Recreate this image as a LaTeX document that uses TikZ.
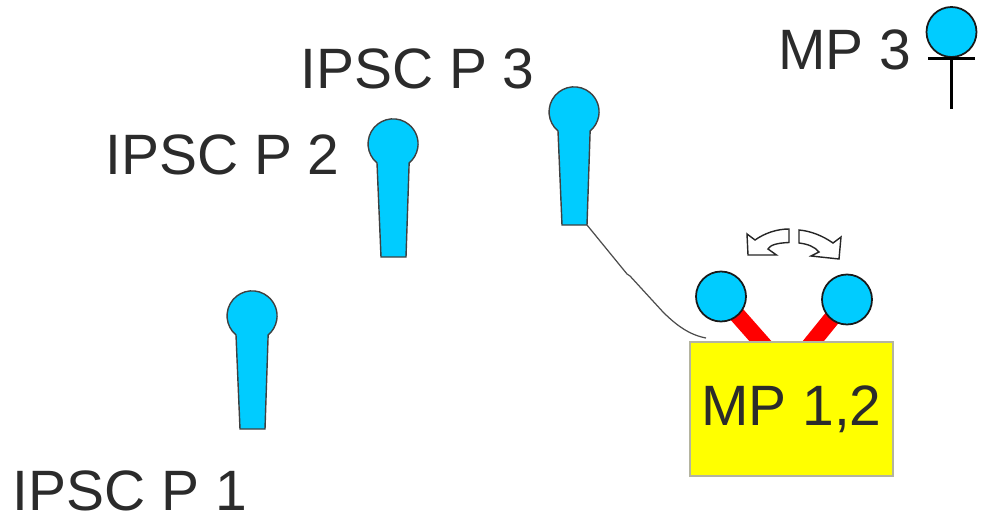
\documentclass[tikz,border=0pt]{standalone}
\usepackage{fontspec}
\setmainfont{Liberation Sans}
\usepackage{tikz}
\usetikzlibrary{backgrounds}

\definecolor{headblue}{HTML}{00CCFF}
\definecolor{labelgray}{HTML}{2B2B2B}
\definecolor{boxyellow}{HTML}{FFFF00}
\definecolor{boxedge}{HTML}{B4B4A0}
\definecolor{linkred}{HTML}{FF0000}
\tikzset{
	label text/.style={text=labelgray, font=\fontsize{32.4}{36}\selectfont, inner sep=0pt},
	head/.style={circle, draw=black!90, fill=headblue, line width=1pt, minimum size=1cm, inner sep=0pt, outer sep=0pt},
	mic/.style={draw=black!75, fill=headblue, line width=0.8pt},
	turn/.style={draw=black!85, fill=white, line width=0.8pt},
	link/.style={draw=linkred, line width=0.33cm},
}
% one hand microphone, #1 is the centre of its head, #2 names the lower right corner
\newcommand{\handmic}[2]{
	\begin{scope}[shift={#1}]
		\draw[mic] (-16,-19) arc[start angle=230, end angle=-50, radius=25] -- (13,-113) -- (-12,-113) -- cycle;
		\coordinate (#2) at (13,-113);
	\end{scope}
}

\begin{document}
\begin{tikzpicture}[x=0.02cm, y=0.02cm]
	\useasboundingbox (0,0) rectangle (981,-517);
	\handmic{(252,-316)}{micA}
	\handmic{(393,-144)}{micB}
	\handmic{(574,-112)}{micC}
	\node at (130,-491) [label text] (labelA) {IPSC P 1};
	\node at (222.5,-155) [label text] (labelB) {IPSC P 2};
	\node at (417.5,-69) [label text] (labelC) {IPSC P 3};
	\node at (845,-49.5) [label text] (labelD) {MP 3};
	% yellow box with the two heads on red arms
	\node at (791.5,-409) [rectangle, draw=boxedge, fill=boxyellow, line width=0.8pt, minimum width=4.06cm, minimum height=2.68cm, label text] (box) {MP 1,2};
	\node at (721,-296.5) [head] (headA) {};
	\node at (847,-299.5) [head] (headB) {};
	\coordinate (footA) at (770,-352);
	\coordinate (footB) at (804.5,-352);
	\begin{pgfonlayer}{background}
		\draw[link] (headA.center) -- (footA);
		\draw[link] (headB.center) -- (footB);
	\end{pgfonlayer}
	% thin cable
	\coordinate (cableEnd) at (706,-338);
	\draw[black!70, line width=0.7pt] (micC) -- (627,-274) -- (630,-276) -- (663,-312) .. controls (677,-326) and (690,-335) .. (cableEnd);
	% turning arrows
	\draw[turn] (789,-229) -- (789,-242.5) .. controls (777,-243) and (770,-245) .. (768,-249) -- (776.5,-255) -- (748,-255) -- (747,-234) -- (755,-240) .. controls (765,-233) and (777,-229) .. (789,-229) -- cycle;
	\draw[turn] (799,-230) -- (799,-243) .. controls (808,-244) and (815,-247) .. (819,-252) -- (811,-256) -- (839,-259) -- (841,-237) -- (833,-243) .. controls (823,-236) and (811,-231) .. (799,-230) -- cycle;
	% standing microphone
	\node at (951.5,-32) [head] (headC) {};
	\coordinate (barL) at (928,-58.5);
	\coordinate (barR) at (975,-58.5);
	\coordinate (stand) at (951.5,-109);
	\draw[black, line width=1.3pt] (barL) -- (barR);
	\draw[black, line width=1.3pt] (headC) -- (stand);
\end{tikzpicture}
\end{document}
